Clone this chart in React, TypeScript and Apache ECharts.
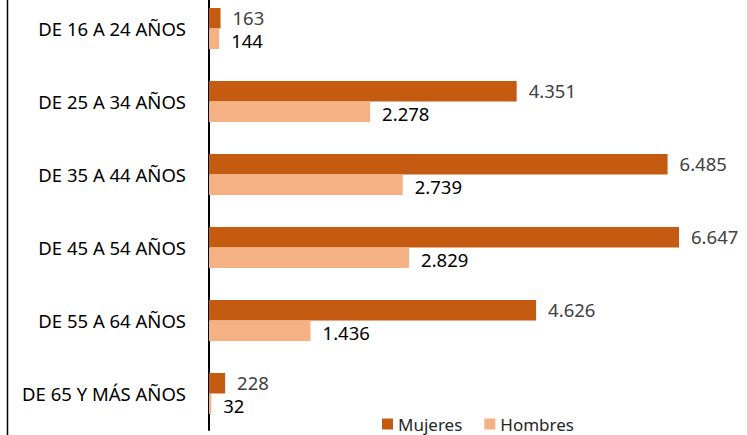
import React, { useEffect, useRef } from "react";
import * as echarts from "echarts";

const categories = [
  "DE 16 A 24 AÑOS",
  "DE 25 A 34 AÑOS",
  "DE 35 A 44 AÑOS",
  "DE 45 A 54 AÑOS",
  "DE 55 A 64 AÑOS",
  "DE 65 Y MÁS AÑOS",
];
const mujeres = [163, 4351, 6485, 6647, 4626, 228];
const hombres = [144, 2278, 2739, 2829, 1436, 32];

const fmt = (v: number) => String(v).replace(/\B(?=(\d{3})+(?!\d))/g, ".");

const FONT = "'Noto Sans', 'Open Sans', sans-serif";
const SHIFT = 8; // chart div starts above the page so the first band can be cut off

export default function App() {
  const ref = useRef<HTMLDivElement>(null);
  useEffect(() => {
    if (!ref.current) return;
    const chart = echarts.init(ref.current, null, { renderer: "svg" });
    chart.setOption({
      animation: false,
      backgroundColor: "#ffffff",
      textStyle: { fontFamily: FONT },
      grid: { left: 209, right: 43, top: 0, bottom: 5, containLabel: false },
      xAxis: {
        type: "value",
        min: 0,
        max: 7000,
        show: false,
      },
      yAxis: {
        type: "category",
        data: categories,
        inverse: true,
        axisLine: { show: true, lineStyle: { color: "#000000", width: 2 } },
        axisTick: { show: false },
        axisLabel: {
          color: "#000000",
          fontSize: 18.5,
          fontFamily: FONT,
          margin: 23,
        },
      },
      legend: {
        data: ["Mujeres", "Hombres"],
        left: 382,
        top: 414 + SHIFT,
        padding: 0,
        itemWidth: 11,
        itemHeight: 11,
        itemGap: 22,
        icon: "rect",
        textStyle: { color: "#262626", fontSize: 17, fontFamily: FONT, lineHeight: 20 },
      },
      graphic: [
        {
          type: "line",
          shape: { x1: 7.5, y1: 0, x2: 7.5, y2: 435 + SHIFT },
          style: { stroke: "#000000", lineWidth: 1.5 },
        },
      ],
      series: [
        {
          name: "Mujeres",
          type: "bar",
          data: mujeres,
          barWidth: 20.5,
          barGap: "0%",
          itemStyle: { color: "#C55A11" },
          label: {
            show: true,
            position: "right",
            distance: 12,
            offset: [0, -1],
            color: "#404040",
            fontSize: 18.5,
            lineHeight: 19,
            fontFamily: FONT,
            formatter: (p: any) => fmt(p.value),
          },
        },
        {
          name: "Hombres",
          type: "bar",
          data: hombres,
          barWidth: 20.5,
          barGap: "0%",
          itemStyle: { color: "#F4B183" },
          label: {
            show: true,
            position: "right",
            distance: 12,
            offset: [0, 2],
            color: "#000000",
            fontSize: 18.5,
            lineHeight: 19,
            fontFamily: FONT,
            formatter: (p: any) => fmt(p.value),
          },
        },
      ],
    });
    return () => chart.dispose();
  }, []);
  return (
    <div
      ref={ref}
      style={{ position: "fixed", left: 0, top: -SHIFT, width: 747, height: 435 + SHIFT }}
    />
  );
}
